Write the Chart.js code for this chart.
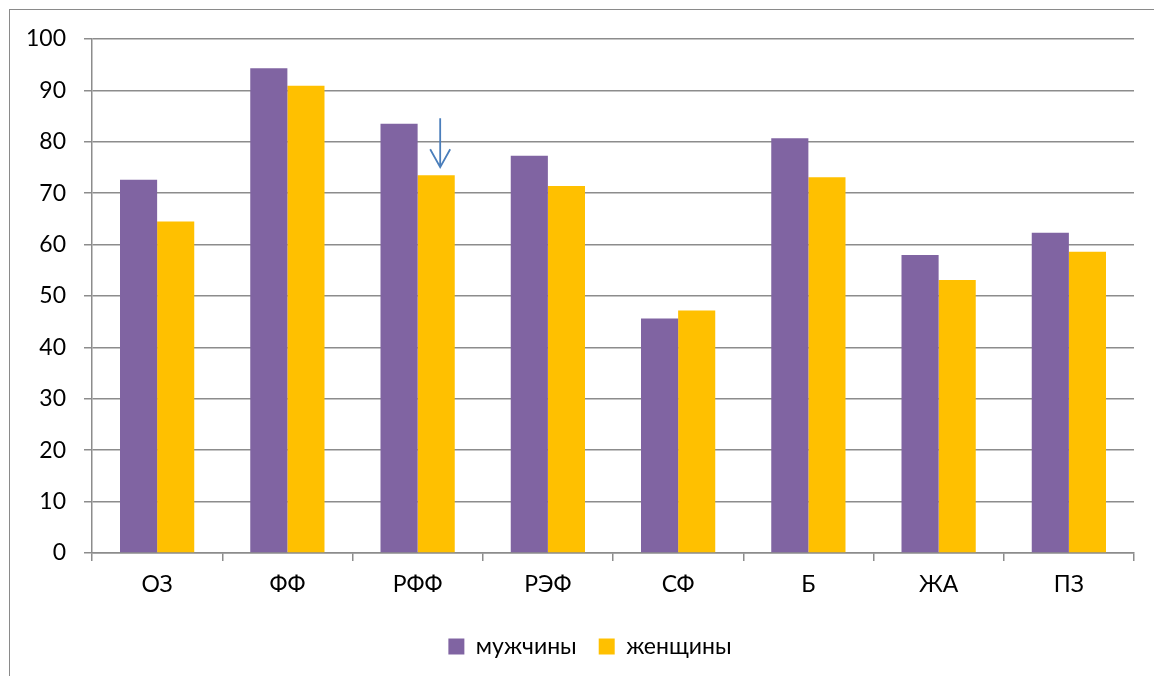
<!DOCTYPE html>
<html lang="ru">
<head>
<meta charset="utf-8">
<title>мужчины / женщины</title>
<script src="https://cdn.jsdelivr.net/npm/chart.js@4.4.1/dist/chart.umd.min.js"></script>
<style>
  html, body { margin: 0; padding: 0; background: #fff; overflow: hidden; }
  #wrap { position: relative; width: 1154px; height: 676px; }
  #frame {
    position: absolute; left: 9px; top: 9px; width: 1300px; height: 800px;
    border-left: 1.5px solid #8a8a8a; border-top: 1.5px solid #8a8a8a;
  }
  canvas { position: absolute; left: 0; top: 0; }
</style>
</head>
<body>
<div id="wrap">
  <div id="frame"></div>
  <canvas id="chart" width="1154" height="676"></canvas>
</div>
<script>
const categories = ['ОЗ', 'ФФ', 'РФФ', 'РЭФ', 'СФ', 'Б', 'ЖА', 'ПЗ'];
const men = [72.6, 94.3, 83.5, 77.3, 45.6, 80.7, 58.0, 62.3];
const women = [64.5, 90.9, 73.5, 71.4, 47.2, 73.1, 53.1, 58.6];
const seriesNames = ['мужчины', 'женщины'];
const yTicks = [0, 10, 20, 30, 40, 50, 60, 70, 80, 90, 100];

const gridColor = '#8c8c8c';
const fontFamily = 'Lato, "Noto Sans", sans-serif';
const fontSize = 23;

// Downward arrow pointing at the women's bar of the third group
const arrowPlugin = {
  id: 'markerArrow',
  afterDatasetsDraw(chart) {
    const bar = chart.getDatasetMeta(1).data[2];
    if (!bar) return;
    const ctx = chart.ctx;
    const x = bar.x + 4;
    const tip = bar.y - 8;
    const tail = bar.y - 57;
    ctx.save();
    ctx.strokeStyle = '#4a7ebb';
    ctx.lineWidth = 1.8;
    ctx.beginPath();
    ctx.moveTo(x, tail);
    ctx.lineTo(x, tip);
    ctx.moveTo(x - 10, tip - 18);
    ctx.lineTo(x, tip);
    ctx.lineTo(x + 10, tip - 18);
    ctx.stroke();
    ctx.restore();
  }
};

// Centre the legend under the plot area rather than the whole canvas
const legendShift = {
  id: 'legendShift',
  afterLayout(chart) {
    const lg = chart.legend;
    if (!lg) return;
    lg.left += 12;
    lg.right += 12;
  }
};

new Chart(document.getElementById('chart'), {
  type: 'bar',
  data: {
    labels: categories,
    datasets: [
      { label: seriesNames[0], data: men, backgroundColor: '#8064a2', borderWidth: 0 },
      { label: seriesNames[1], data: women, backgroundColor: '#ffc000', borderWidth: 0 }
    ]
  },
  options: {
    responsive: false,
    animation: false,
    devicePixelRatio: 1,
    layout: { padding: { left: 22, right: 20, top: 39, bottom: 8 } },
    datasets: { bar: { categoryPercentage: 0.57, barPercentage: 1.0 } },
    plugins: {
      legend: {
        position: 'bottom',
        labels: {
          boxWidth: 16, boxHeight: 16, padding: 22,
          color: '#000',
          font: { family: fontFamily, size: fontSize }
        }
      },
      tooltip: { enabled: false },
      title: { display: false }
    },
    scales: {
      x: {
        grid: { display: true, drawOnChartArea: false, drawTicks: true, tickLength: 8, color: gridColor, lineWidth: 1.5 },
        border: { display: true, color: gridColor, width: 1.5 },
        ticks: { color: '#000', padding: 10, font: { family: fontFamily, size: fontSize } },
        afterFit(scale) { scale.height = 60; }
      },
      y: {
        min: 0, max: 100,
        afterBuildTicks(scale) { scale.ticks = yTicks.map(v => ({ value: v })); },
        grid: { color: gridColor, lineWidth: 1.5, tickLength: 8 },
        border: { display: true, color: gridColor, width: 1.5 },
        ticks: { color: '#000', padding: 18, font: { family: fontFamily, size: fontSize } },
        afterFit(scale) { scale.width = 70; }
      }
    }
  },
  plugins: [arrowPlugin, legendShift]
});
</script>
</body>
</html>
